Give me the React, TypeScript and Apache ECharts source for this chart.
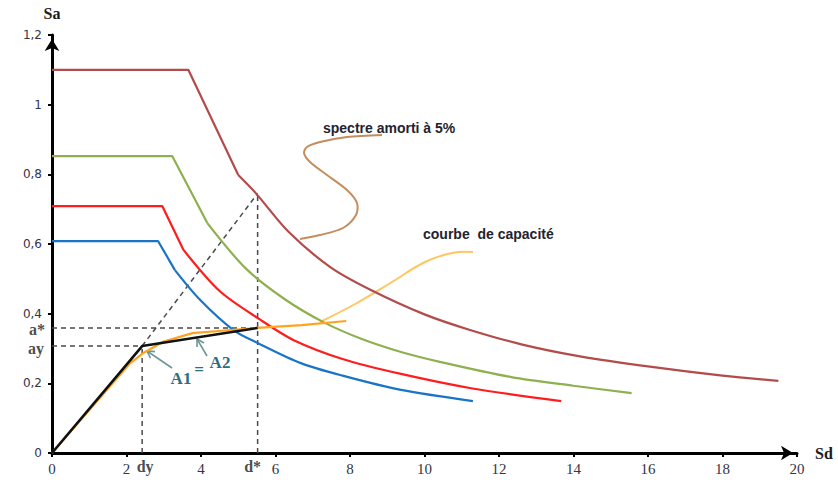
import React, { useEffect, useRef } from "react";
import * as echarts from "echarts";

// Spectra (ADRS format): Sd (cm) and Sa (g)
const spectre5Sd = [0, 3.66, 5.0, 5.47, 6.35, 7.48, 8.56, 10.0, 11.2, 12.6, 14.1, 16.1, 18.0, 19.5];
const spectre5Sa = [1.1, 1.1, 0.798, 0.746, 0.635, 0.533, 0.468, 0.398, 0.354, 0.312, 0.279, 0.247, 0.222, 0.207];

const spectreVertSd = [0, 3.23, 4.17, 5.2, 6.27, 7.3, 8.3, 9.37, 10.44, 12.33, 14.0, 15.56];
const spectreVertSa = [0.852, 0.852, 0.66, 0.53, 0.44, 0.375, 0.328, 0.29, 0.261, 0.218, 0.193, 0.172];

const spectreRougeSd = [0, 2.96, 3.53, 4.5, 5.6, 6.49, 7.8, 9.37, 11.25, 13.67];
const spectreRougeSa = [0.709, 0.709, 0.583, 0.465, 0.382, 0.324, 0.27, 0.227, 0.186, 0.149];

const spectreBleuSd = [0, 2.85, 3.3, 3.98, 4.87, 5.52, 6.68, 7.8, 9.37, 11.3];
const spectreBleuSa = [0.608, 0.608, 0.525, 0.439, 0.353, 0.316, 0.258, 0.222, 0.181, 0.149];

// index where the straight (plateau + first drop) part ends and the curved part begins
const spectre5Knee = 2;
const spectreVertKnee = 2;
const spectreRougeKnee = 2;
const spectreBleuKnee = 2;

// Capacity curve
const capaciteSd = [0, 2.1, 2.45, 3.0, 3.77, 5.5, 6.7, 7.9];
const capaciteSa = [0, 0.258, 0.287, 0.32, 0.344, 0.359, 0.367, 0.379];

// Bilinear idealisation
const dy = 2.42;
const ay = 0.307;
const dStar = 5.52;
const aStar = 0.359;
const saAtDStar = 0.745;
const bilinSd = [0, dy, dStar];
const bilinSa = [0, ay, aStar];

const xMax = 20;
const xInterval = 2;
const yMax = 1.2;
const yInterval = 0.2;

const zip = (xs: number[], ys: number[]) => xs.map((x, i) => [x, ys[i]]);

function arrowShapes(tx: number, ty: number, hx: number, hy: number, color: string) {
  const dx = tx - hx;
  const dyy = ty - hy;
  const len = Math.sqrt(dx * dx + dyy * dyy);
  const ux = dx / len;
  const uy = dyy / len;
  const L = 8;
  const a = Math.PI / 6;
  const r1 = [hx + L * (ux * Math.cos(a) - uy * Math.sin(a)), hy + L * (ux * Math.sin(a) + uy * Math.cos(a))];
  const r2 = [hx + L * (ux * Math.cos(-a) - uy * Math.sin(-a)), hy + L * (ux * Math.sin(-a) + uy * Math.cos(-a))];
  return [
    { type: "line", shape: { x1: tx, y1: ty, x2: hx, y2: hy }, style: { stroke: color, lineWidth: 1.6 } },
    { type: "polyline", shape: { points: [r1, [hx, hy], r2] }, style: { stroke: color, lineWidth: 1.6, fill: null } },
  ];
}

export default function App() {
  const ref = useRef<HTMLDivElement>(null);
  useEffect(() => {
    if (!ref.current) return;
    const chart = echarts.init(ref.current, null, { renderer: "svg" });
    const dashed = { color: "#4a4a4a", width: 1.5, type: [5, 4] as any };
    const lineSeries = (data: number[][], color: string, width = 2, z = 2, smooth: any = false) => ({
      type: "line",
      data,
      showSymbol: false,
      symbol: "none",
      smooth,
      lineStyle: { color, width },
      z,
      silent: true,
    });
    const spectrum = (xs: number[], ys: number[], knee: number, color: string) => {
      const pts = zip(xs, ys);
      return [
        lineSeries(pts.slice(0, knee + 1), color, 2.2),
        lineSeries(pts.slice(knee), color, 2.2, 2, 0.3),
      ];
    };
    const labelFont = { fontFamily: "Liberation Serif", fontWeight: "bold", fontSize: 16, color: "#1c1c1c" };
    const arrowColor = "#6f9699";
    const option: any = {
      animation: false,
      grid: { left: 52, right: 41, top: 35, bottom: 29, containLabel: false },
      xAxis: {
        type: "value",
        min: 0,
        max: xMax,
        interval: xInterval,
        name: "Sd",
        nameLocation: "end",
        nameGap: 18,
        nameTextStyle: { fontFamily: "Liberation Serif", fontWeight: "bold", fontSize: 16, color: "#1c1c1c", verticalAlign: "middle" },
        axisLine: { lineStyle: { color: "#000", width: 3 }, symbol: ["none", "arrow"], symbolSize: [11, 12], symbolOffset: [0, -4] },
        axisTick: { show: true, length: 4, lineStyle: { color: "#000", width: 2 } },
        axisLabel: { fontFamily: "Liberation Serif", fontSize: 15, color: "#34344a", margin: 8 },
        splitLine: { show: false },
      },
      yAxis: {
        type: "value",
        min: 0,
        max: yMax,
        interval: yInterval,
        name: "Sa",
        nameLocation: "end",
        nameGap: 14,
        nameTextStyle: { fontFamily: "Liberation Serif", fontWeight: "bold", fontSize: 16, color: "#1c1c1c", align: "center" },
        axisLine: { lineStyle: { color: "#000", width: 3 }, symbol: ["none", "arrow"], symbolSize: [11, 12], symbolOffset: [0, -4] },
        axisTick: { show: true, length: 4, lineStyle: { color: "#000", width: 2 } },
        axisLabel: {
          fontFamily: "DejaVu Sans",
          fontSize: 12,
          color: "#34344a",
          margin: 10,
          formatter: (v: number) => String(Math.round(v * 10) / 10).replace(".", ","),
        },
        splitLine: { show: false },
      },
      series: [
        ...spectrum(spectre5Sd, spectre5Sa, spectre5Knee, "#b24c4a"),
        ...spectrum(spectreVertSd, spectreVertSa, spectreVertKnee, "#8fb04e"),
        ...spectrum(spectreRougeSd, spectreRougeSa, spectreRougeKnee, "#ff1c1c"),
        ...spectrum(spectreBleuSd, spectreBleuSa, spectreBleuKnee, "#1a74c6"),
        lineSeries(zip(capaciteSd, capaciteSa), "#ffa31f", 2.2, 3),
        lineSeries(zip(bilinSd, bilinSa), "#111111", 2.6, 4),
        { type: "line", data: [[0, aStar], [dStar, aStar]], showSymbol: false, symbol: "none", lineStyle: dashed, z: 1 },
        { type: "line", data: [[0, ay], [dy, ay]], showSymbol: false, symbol: "none", lineStyle: dashed, z: 1 },
        { type: "line", data: [[dy, 0], [dy, ay]], showSymbol: false, symbol: "none", lineStyle: dashed, z: 1 },
        { type: "line", data: [[dStar, 0], [dStar, saAtDStar]], showSymbol: false, symbol: "none", lineStyle: dashed, z: 1 },
        { type: "line", data: [[dy, ay], [dStar, saAtDStar]], showSymbol: false, symbol: "none", lineStyle: dashed, z: 1 },
        {
          type: "scatter",
          symbolSize: 0,
          silent: true,
          z: 5,
          data: [
            { value: [0, aStar], label: { show: true, formatter: "a*", position: "left", distance: 7, offset: [0, 2], ...labelFont } },
            { value: [0, ay], label: { show: true, formatter: "ay", position: "left", distance: 8, offset: [0, 2], ...labelFont } },
            { value: [dy, 0], label: { show: true, formatter: "dy", position: "bottom", distance: 5, offset: [3, 0], ...labelFont } },
            { value: [dStar, 0], label: { show: true, formatter: "d*", position: "bottom", distance: 5, offset: [-5, 0], ...labelFont } },
          ],
        },
      ],
      graphic: [
        {
          type: "text",
          x: 323,
          y: 128,
          style: { text: "spectre amorti à 5%", font: "bold 14px 'Liberation Sans'", fill: "#1f2330", textVerticalAlign: "middle" },
        },
        {
          type: "polyline",
          shape: {
            points: [
              [382, 135], [347, 137], [320, 142], [307, 147], [304, 153], [310, 162], [327, 175],
              [347, 190], [357, 203], [356, 215], [343, 228], [320, 235], [300, 239],
            ],
            smooth: 0.3,
          },
          style: { stroke: "#c48d5e", lineWidth: 2, fill: null },
        },
        {
          type: "text",
          x: 423,
          y: 234,
          style: { text: "courbe  de capacité", font: "bold 14px 'Liberation Sans'", fill: "#1f2330", textVerticalAlign: "middle" },
        },
        {
          type: "polyline",
          shape: {
            points: [[473, 252], [452, 253], [425, 262], [392, 282], [357, 303], [320, 322]],
            smooth: 0.4,
          },
          style: { stroke: "#ffc662", lineWidth: 2, fill: null },
        },
        ...arrowShapes(172, 368, 147, 351, arrowColor),
        ...arrowShapes(207, 356, 197, 339, arrowColor),
        {
          type: "text",
          x: 181,
          y: 378,
          style: { text: "A1", font: "bold 17px 'Liberation Serif'", fill: "#2c6e84", textAlign: "center", textVerticalAlign: "middle" },
        },
        {
          type: "text",
          x: 199,
          y: 369,
          style: { text: "=", font: "bold 17px 'Liberation Serif'", fill: "#2c6e84", textAlign: "center", textVerticalAlign: "middle" },
        },
        {
          type: "text",
          x: 220,
          y: 362,
          style: { text: "A2", font: "bold 17px 'Liberation Serif'", fill: "#2c6e84", textAlign: "center", textVerticalAlign: "middle" },
        },
      ],
    };
    chart.setOption(option);
    return () => chart.dispose();
  }, []);
  return <div ref={ref} style={{ position: "fixed", left: 0, top: 0, width: 838, height: 482, background: "#fff" }} />;
}
